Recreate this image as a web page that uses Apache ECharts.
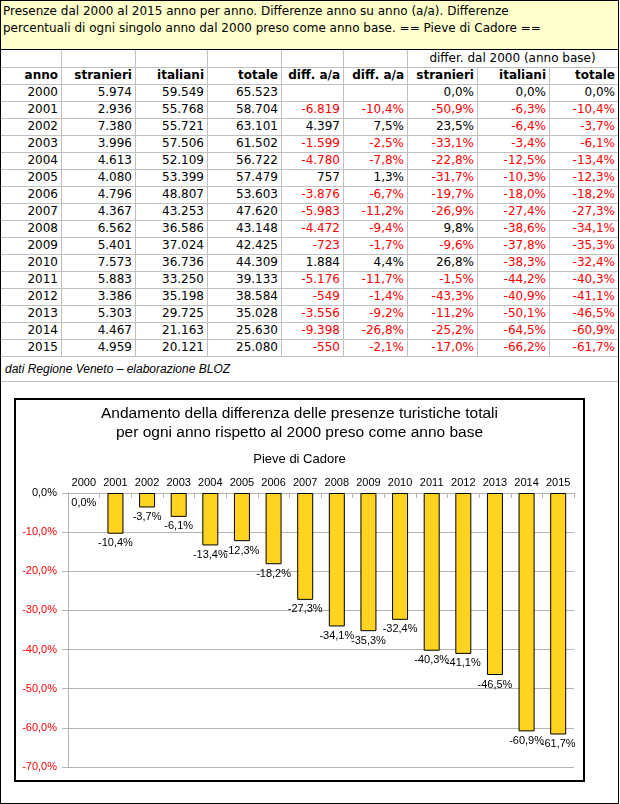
<!DOCTYPE html>
<html>
<head>
<meta charset="utf-8">
<script src="https://cdn.jsdelivr.net/npm/echarts@6/dist/echarts.min.js"></script>
<style>
  html, body { margin:0; padding:0; background:#fff; }
  #page { position:absolute; left:0; top:0; width:619px; height:804px; border:1px solid #000; box-sizing:border-box; overflow:hidden; }
  .banner { position:absolute; left:0; top:0; width:617px; height:49px; background:#FFFFCC; border-bottom:1px solid #000; box-sizing:border-box;
            font-family:"DejaVu Sans", Verdana, sans-serif; font-size:12px; line-height:17px; padding:2px 0 0 2px; color:#000; }
  .cell { position:absolute; height:17px; line-height:17px; font-family:"DejaVu Sans", Verdana, sans-serif; font-size:12px; text-align:right; box-sizing:border-box; padding-right:3px; white-space:nowrap; color:#000; }
  .hl { position:absolute; height:1px; background:#c0c0c0; }
  .vl { position:absolute; width:1px; background:#c0c0c0; }
  #chartBox { position:absolute; left:13px; top:397px; width:571px; height:384px; border:2px solid #000; box-sizing:border-box; }
  #chart { position:absolute; left:0; top:0; width:567px; height:380px; }
  .src { position:absolute; left:4px; top:360px; font-family:"Liberation Sans", Arial, sans-serif; font-style:italic; font-size:12px; line-height:17px; color:#000; }
</style>
</head>
<body>
<div id="page">
  <div class="banner">Presenze dal 2000 al 2015 anno per anno. Differenze anno su anno (a/a). Differenze<br>percentuali di ogni singolo anno dal 2000 preso come anno base. == Pieve di Cadore ==</div>
  <div id="table"></div>
  <div class="src">dati Regione Veneto – elaborazione BLOZ</div>
  <div id="chartBox"><div id="chart"></div></div>
</div>
<script>
// ---- data ----
const years = ['2000','2001','2002','2003','2004','2005','2006','2007','2008','2009','2010','2011','2012','2013','2014','2015'];
const stranieri = [5974, 2936, 7380, 3996, 4613, 4080, 4796, 4367, 6562, 5401, 7573, 5883, 3386, 5303, 4467, 4959];
const italiani = [59549, 55768, 55721, 57506, 52109, 53399, 48807, 43253, 36586, 37024, 36736, 33250, 35198, 29725, 21163, 20121];
const totale = [65523, 58704, 63101, 61502, 56722, 57479, 53603, 47620, 43148, 42425, 44309, 39133, 38584, 35028, 25630, 25080];
const diffAA = [null, -6819, 4397, -1599, -4780, 757, -3876, -5983, -4472, -723, 1884, -5176, -549, -3556, -9398, -550];
const diffAAPct = [null, -10.4, 7.5, -2.5, -7.8, 1.3, -6.7, -11.2, -9.4, -1.7, 4.4, -11.7, -1.4, -9.2, -26.8, -2.1];
const diffStranieri = [0.0, -50.9, 23.5, -33.1, -22.8, -31.7, -19.7, -26.9, 9.8, -9.6, 26.8, -1.5, -43.3, -11.2, -25.2, -17.0];
const diffItaliani = [0.0, -6.3, -6.4, -3.4, -12.5, -10.3, -18.0, -27.4, -38.6, -37.8, -38.3, -44.2, -40.9, -50.1, -64.5, -66.2];
const diffTotale = [0.0, -10.4, -3.7, -6.1, -13.4, -12.3, -18.2, -27.3, -34.1, -35.3, -32.4, -40.3, -41.1, -46.5, -60.9, -61.7];
const headers = ['anno','stranieri','italiani','totale','diff. a/a','diff. a/a','stranieri','italiani','totale'];
const groupHeader = 'differ. dal 2000 (anno base)';
const titleLines = ['Andamento della differenza delle presenze turistiche totali', 'per ogni anno rispetto al 2000 preso come anno base'];
const subtitle = 'Pieve di Cadore';

// ---- formatting ----
function fmtInt(n) {
  if (n === null || n === undefined) return '';
  const s = Math.abs(n).toString().replace(/\B(?=(\d{3})+(?!\d))/g, '.');
  return (n < 0 ? '-' : '') + s;
}
function fmtPct(v) {
  if (v === null || v === undefined) return '';
  return Number(v).toFixed(1).replace('.', ',') + '%';
}

// ---- table ----
const colEdges = [0, 60, 134, 206, 280, 342, 406, 476, 548, 617];
const tableTop = 49, rowH = 17;
const tbl = document.getElementById('table');
function addCell(text, col, row, opts) {
  opts = opts || {};
  const d = document.createElement('div');
  d.className = 'cell';
  const x0 = colEdges[col], x1 = colEdges[opts.endCol !== undefined ? opts.endCol : col + 1];
  d.style.left = x0 + 'px';
  d.style.width = (x1 - x0) + 'px';
  d.style.top = (tableTop + row * rowH) + 'px';
  if (opts.bold) d.style.fontWeight = 'bold';
  if (opts.red) d.style.color = '#FF0000';
  if (opts.center) { d.style.textAlign = 'center'; d.style.paddingRight = '0'; }
  d.textContent = text;
  tbl.appendChild(d);
}
function hline(y, x0, x1) {
  const d = document.createElement('div'); d.className = 'hl';
  d.style.top = y + 'px'; d.style.left = x0 + 'px'; d.style.width = (x1 - x0) + 'px'; tbl.appendChild(d);
}
function vline(x, y0, y1) {
  const d = document.createElement('div'); d.className = 'vl';
  d.style.left = x + 'px'; d.style.top = y0 + 'px'; d.style.height = (y1 - y0) + 'px'; tbl.appendChild(d);
}
const nRows = 2 + years.length;
for (let r = 1; r <= nRows; r++) hline(tableTop + r * rowH, 0, 617);
for (let c = 1; c < colEdges.length - 1; c++) {
  const y0 = (c >= 7) ? tableTop + rowH : tableTop;
  vline(colEdges[c], y0, tableTop + nRows * rowH);
}
hline(380, 0, 617);
addCell(groupHeader, 6, 0, {endCol: 9, center: true});
headers.forEach((h, i) => addCell(h, i, 1, {bold: true}));
years.forEach((y, i) => {
  const r = i + 2;
  addCell(y, 0, r);
  addCell(fmtInt(stranieri[i]), 1, r);
  addCell(fmtInt(italiani[i]), 2, r);
  addCell(fmtInt(totale[i]), 3, r);
  addCell(fmtInt(diffAA[i]), 4, r, {red: diffAA[i] < 0});
  addCell(fmtPct(diffAAPct[i]), 5, r, {red: diffAAPct[i] < 0});
  addCell(fmtPct(diffStranieri[i]), 6, r, {red: diffStranieri[i] < 0});
  addCell(fmtPct(diffItaliani[i]), 7, r, {red: diffItaliani[i] < 0});
  addCell(fmtPct(diffTotale[i]), 8, r, {red: diffTotale[i] < 0});
});

// ---- chart ----
const chart = echarts.init(document.getElementById('chart'), null, {renderer: 'canvas'});
const gray = '#b3b3b3';
const font = '"Liberation Sans", Arial, sans-serif';
const barData = diffTotale.map(v => (v === 0 ? { value: v, itemStyle: { borderWidth: 0 } } : v));
chart.setOption({
  animation: false,
  backgroundColor: '#fff',
  textStyle: { fontFamily: font },
  title: [
    { text: titleLines[0], left: 'center', top: 6, padding: 0,
      textStyle: { fontFamily: font, fontSize: 15.5, fontWeight: 'normal', color: '#000' } },
    { text: titleLines[1], left: 'center', top: 25, padding: 0,
      textStyle: { fontFamily: font, fontSize: 15.5, fontWeight: 'normal', color: '#000' } },
    { text: subtitle, left: 'center', top: 53, padding: 0,
      textStyle: { fontFamily: font, fontSize: 13, fontWeight: 'normal', color: '#000' } }
  ],
  grid: { left: 52, right: 9, top: 93, bottom: 13 },
  xAxis: {
    type: 'category', position: 'top', data: years,
    axisLine: { show: true, lineStyle: { color: gray, width: 1 } },
    axisTick: { show: true, inside: true, length: 5, lineStyle: { color: gray } },
    axisLabel: { color: '#000', fontSize: 11, fontFamily: font, margin: 5, interval: 0 }
  },
  yAxis: {
    type: 'value', min: -70, max: 0, interval: 10,
    axisLine: { show: true, lineStyle: { color: gray, width: 1 } },
    axisTick: { show: true, length: 6, lineStyle: { color: gray } },
    splitLine: { show: true, lineStyle: { color: gray, width: 1 } },
    axisLabel: {
      fontSize: 11, fontFamily: font, margin: 11,
      formatter: v => fmtPct(v),
      color: v => (Number(v) < 0 ? '#FF0000' : '#000')
    }
  },
  series: [{
    type: 'bar', data: barData, barWidth: 16,
    itemStyle: { color: '#FFD320', borderColor: '#000', borderWidth: 1 },
    label: { show: true, position: 'bottom', distance: 4, fontSize: 11, fontFamily: font, color: '#000',
             formatter: p => fmtPct(p.value) }
  }]
});
</script>
</body>
</html>
